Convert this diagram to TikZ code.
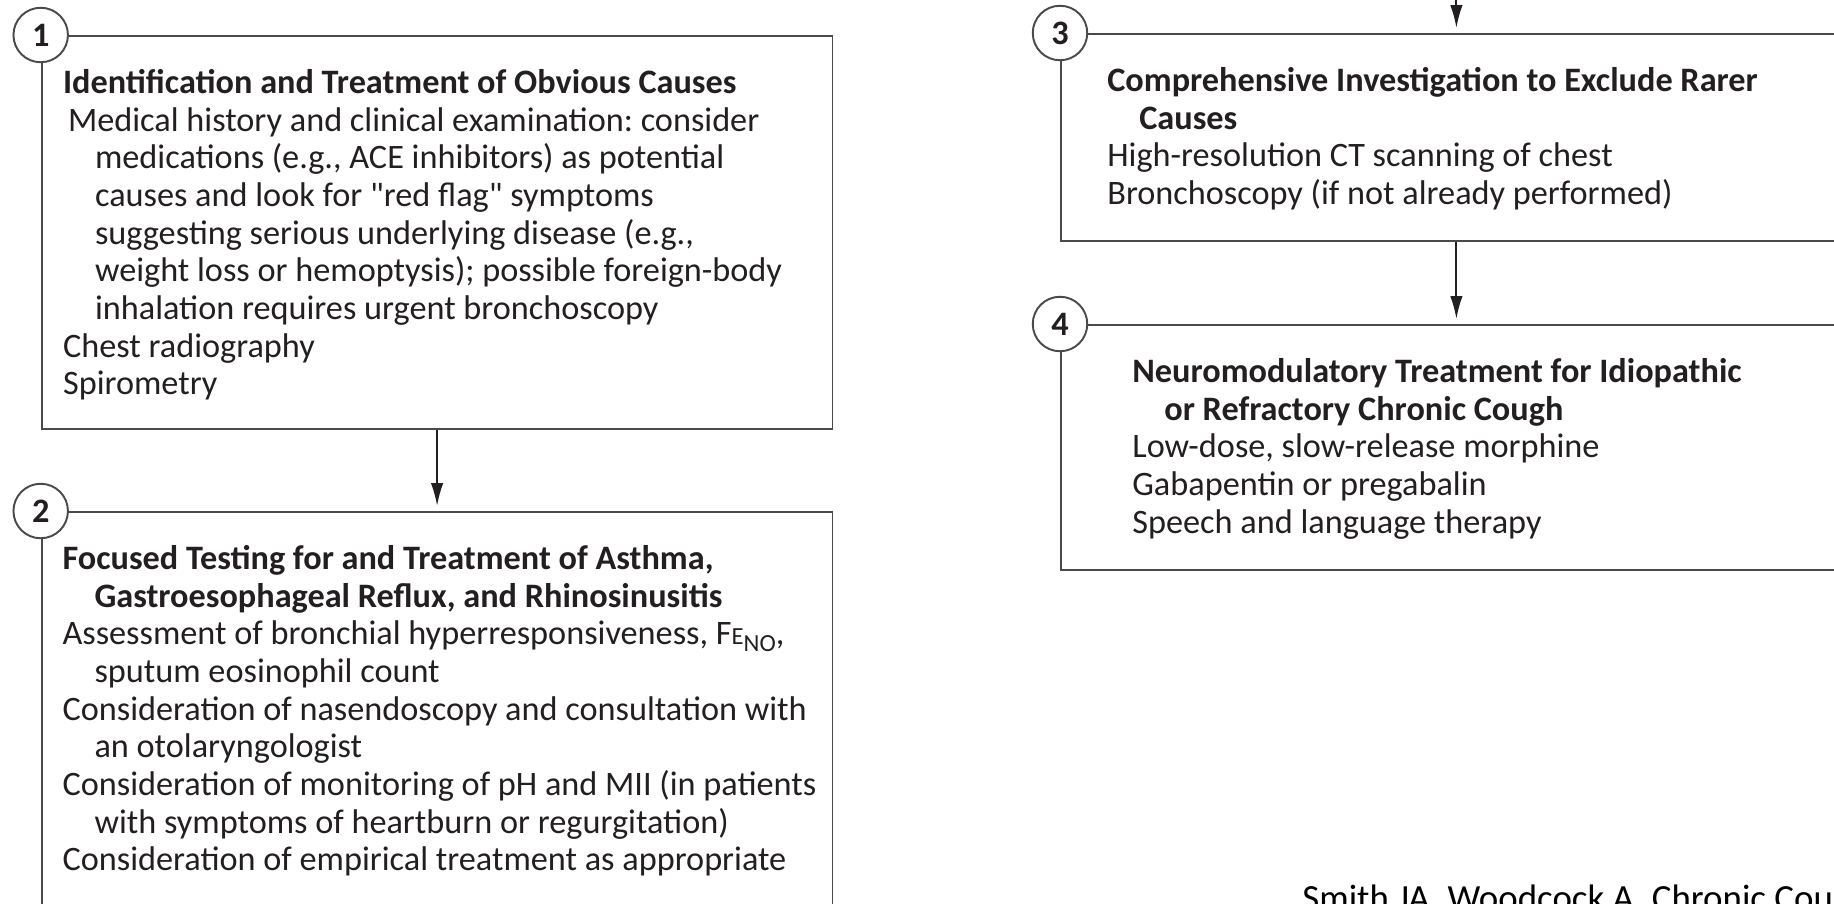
\documentclass[tikz,border=0pt]{standalone}
\usepackage{fontspec}
\setmainfont{Carlito}
\usepackage{tikz}
\usetikzlibrary{arrows.meta,positioning,calc}
\usepackage{xcolor}
\definecolor{inkline}{HTML}{4A4A4A}
\definecolor{inktext}{HTML}{231F20}
\newcommand{\bodyfont}{\fontsize{19.5pt}{21.45pt}\selectfont}
\newcommand{\citefont}{\fontsize{21pt}{24pt}\selectfont}
\newcommand{\ind}{\hspace*{0.64cm}}
\newcommand{\feno}{F{\fontsize{14pt}{14pt}\selectfont E}\raisebox{-0.4ex}{\fontsize{14pt}{14pt}\selectfont NO}}
\frenchspacing
\tikzset{
  stepbox/.style={draw=inkline,line width=1.1pt,rectangle,inner sep=0pt,anchor=north west,
    minimum width=15.82cm},
  numcirc/.style={draw=inkline,line width=1.1pt,circle,fill=white,minimum size=1.09cm,
    inner sep=0pt,font=\bodyfont\bfseries,text=inktext},
  boxtext/.style={anchor=north west,inner sep=0pt,align=left,font=\bodyfont,text=inktext},
  arrow/.style={-{Latex[length=4.6mm,width=2.5mm]},draw=inktext,line width=1.1pt,shorten >=1mm},
  cite/.style={anchor=base west,inner sep=0pt,font=\citefont,text=black}
}

\begin{document}
\begin{tikzpicture}[x=0.02cm,y=-0.02cm]
  \useasboundingbox (0,0) rectangle (1834,903);
  \clip (0,0) rectangle (1834,903);
  % boxes
  \node[stepbox,minimum height=7.86cm] (box1) at (40.7,35) {};
  \node[stepbox,minimum height=9.0cm] (box2) at (40.7,511) {};
  \node[stepbox,minimum height=4.14cm] (box3) at (1060,33) {};
  \node[stepbox,minimum height=4.9cm] (box4) at (1060,324) {};
  % texts
  \node[boxtext] (txt1) at ([shift={(22,34)}]box1.north west) {%
    \textbf{Identification and Treatment of Obvious Causes}\\
    \hspace*{0.1cm}Medical history and clinical examination: consider\\
    \ind medications (e.g., ACE inhibitors) as potential\\
    \ind causes and look for \textquotedbl red flag\textquotedbl\ symptoms\\
    \ind suggesting serious underlying disease (e.g.,\\
    \ind weight loss or hemoptysis); possible foreign-body\\
    \ind inhalation requires urgent bronchoscopy\\
    Chest radiography\\
    Spirometry};
  \node[boxtext] (txt2) at ([shift={(21.5,34)}]box2.north west) {%
    \textbf{Focused Testing for and Treatment of Asthma,}\\
    \ind\textbf{Gastroesophageal Reflux, and Rhinosinusitis}\\
    Assessment of bronchial hyperresponsiveness, \feno,\\
    \ind sputum eosinophil count\\
    Consideration of nasendoscopy and consultation with\\
    \ind an otolaryngologist\\
    Consideration of monitoring of pH and MII (in patients\\
    \ind with symptoms of heartburn or regurgitation)\\
    Consideration of empirical treatment as appropriate};
  \node[boxtext] (txt3) at ([shift={(47,34)}]box3.north west) {%
    \textbf{Comprehensive Investigation to Exclude Rarer}\\
    \ind\textbf{Causes}\\
    High-resolution CT scanning of chest\\
    Bronchoscopy (if not already performed)};
  \node[boxtext] (txt4) at ([shift={(72,34)}]box4.north west) {%
    \textbf{Neuromodulatory Treatment for Idiopathic}\\
    \ind\textbf{or Refractory Chronic Cough}\\
    Low-dose, slow-release morphine\\
    Gabapentin or pregabalin\\
    Speech and language therapy};
  % numbers
  \node[numcirc] (n1) at (box1.north west) {1};
  \node[numcirc] (n2) at (box2.north west) {2};
  \node[numcirc] (n3) at (box3.north west) {3};
  \node[numcirc] (n4) at (box4.north west) {4};
  % arrows
  \coordinate (feed) at ([yshift=1cm]box3.north);
  \draw[arrow] (feed) -- (box3.north);
  \draw[arrow] (box1.south) -- (box2.north);
  \draw[arrow] (box3.south) -- (box4.north);
  \node[cite] (ref) at (1302,910) {Smith JA, Woodcock A. Chronic Cough};
\end{tikzpicture}
\end{document}
